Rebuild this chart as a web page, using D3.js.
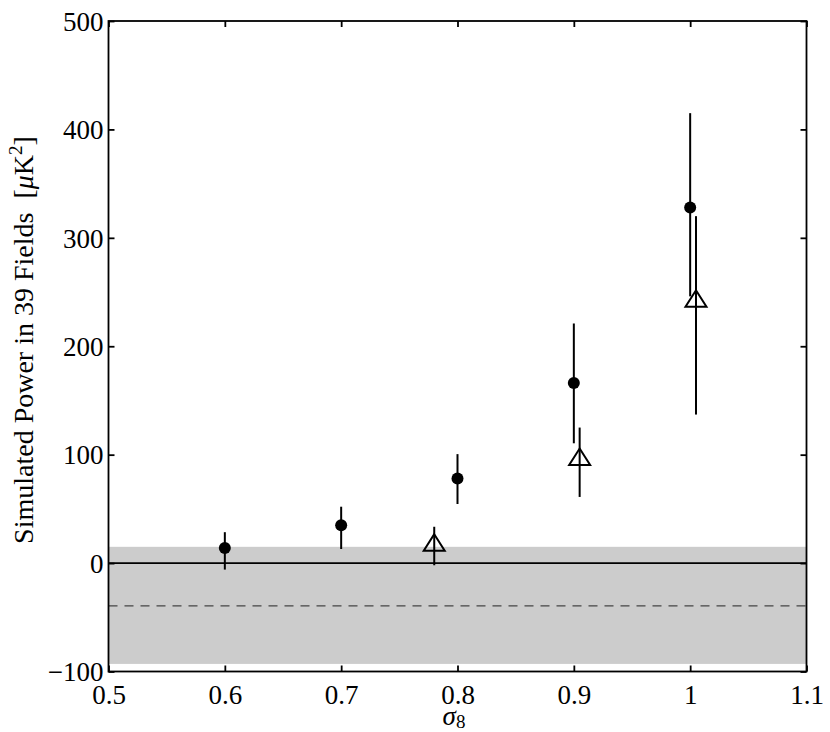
<!DOCTYPE html>
<html>
<head>
<meta charset="utf-8">
<script src="https://cdn.jsdelivr.net/npm/d3@7"></script>
<style>
  body { margin: 0; background: #fff; }
  text { font-family: "Liberation Serif", "Times New Roman", serif; fill: #000; }
</style>
</head>
<body>
<div id="chart"></div>
<script>
// filled circles: sigma8, power, error bar low/high
var sigmaDots = [0.6, 0.7, 0.8, 0.9, 1.0];
var powerDots = [14, 35, 78, 166, 328];
var dotsLo = [-6, 13, 54.5, 110.5, 246];
var dotsHi = [28.5, 52, 100.5, 221, 415];

// open triangles
var sigmaTri = [0.78, 0.905, 1.005];
var powerTri = [19, 98, 244];
var triLo = [-2, 61, 137];
var triHi = [33.5, 125, 320];

// grey band and dashed level
var bandLo = -93, bandHi = 15;
var dashLevel = -39.5;

var xTicks = [0.5, 0.6, 0.7, 0.8, 0.9, 1.0, 1.1];
var xTickLabels = ["0.5", "0.6", "0.7", "0.8", "0.9", "1", "1.1"];
var yTicks = [-100, 0, 100, 200, 300, 400, 500];

var W = 830, H = 732;
var plotL = 108.5, plotR = 806.5, plotT = 21, plotB = 671.5;

var svg = d3.select("#chart").append("svg")
  .attr("width", W).attr("height", H);

var x = d3.scaleLinear().domain([0.5, 1.1]).range([plotL, plotR]);
var y = d3.scaleLinear().domain([-100, 500]).range([plotB, plotT]);

// shaded band
svg.append("rect")
  .attr("x", x(0.5)).attr("width", x(1.1) - x(0.5))
  .attr("y", y(bandHi)).attr("height", y(bandLo) - y(bandHi))
  .attr("fill", "#cccccc");

// dashed line
svg.append("line")
  .attr("x1", x(0.5)).attr("x2", x(1.1))
  .attr("y1", y(dashLevel)).attr("y2", y(dashLevel))
  .attr("stroke", "#444").attr("stroke-width", 1.2)
  .attr("stroke-dasharray", "9,7");

// zero line
svg.append("line")
  .attr("x1", x(0.5)).attr("x2", x(1.1))
  .attr("y1", y(0)).attr("y2", y(0))
  .attr("stroke", "#000").attr("stroke-width", 1.8);

// axes (ticks inside, mirrored like matlab box)
var axB = d3.axisBottom(x).tickValues(xTicks).tickSize(-6).tickFormat(function(d, i) { return xTickLabels[i]; });
var axT = d3.axisTop(x).tickValues(xTicks).tickSize(-6).tickFormat("");
var axL = d3.axisLeft(y).tickValues(yTicks).tickSize(-6).tickFormat(function(d) { return d < 0 ? "\u2212" + Math.abs(d) : d; });
var axR = d3.axisRight(y).tickValues(yTicks).tickSize(-6).tickFormat("");

var gB = svg.append("g").attr("transform", "translate(0," + plotB + ")").call(axB);
var gT = svg.append("g").attr("transform", "translate(0," + plotT + ")").call(axT);
var gL = svg.append("g").attr("transform", "translate(" + plotL + ",0)").call(axL);
var gR = svg.append("g").attr("transform", "translate(" + plotR + ",0)").call(axR);

[gB, gT, gL, gR].forEach(function(g) {
  g.attr("font-family", null).attr("font-size", null);
  g.select(".domain").remove();
  g.selectAll(".tick line").attr("stroke", "#000").attr("stroke-width", 1.8);
  g.selectAll("text").style("font-family", "'Liberation Serif', serif").style("font-size", "27px").attr("fill", "#000");
});
gB.selectAll(".tick text").attr("y", 13).attr("dy", "0.71em");
gL.selectAll(".tick text").attr("x", -5).attr("dy", "0.34em");

// frame
svg.append("rect")
  .attr("x", plotL).attr("y", plotT)
  .attr("width", plotR - plotL).attr("height", plotB - plotT)
  .attr("fill", "none").attr("stroke", "#000").attr("stroke-width", 1.8);

// error bars
svg.selectAll(".ebDot").data(sigmaDots).enter().append("line")
  .attr("x1", function(d) { return x(d); }).attr("x2", function(d) { return x(d); })
  .attr("y1", function(d, i) { return y(dotsLo[i]); })
  .attr("y2", function(d, i) { return y(dotsHi[i]); })
  .attr("stroke", "#000").attr("stroke-width", 2);

svg.selectAll(".ebTri").data(sigmaTri).enter().append("line")
  .attr("x1", function(d) { return x(d); }).attr("x2", function(d) { return x(d); })
  .attr("y1", function(d, i) { return y(triLo[i]); })
  .attr("y2", function(d, i) { return y(triHi[i]); })
  .attr("stroke", "#000").attr("stroke-width", 2);

// filled circles
svg.selectAll(".dot").data(sigmaDots).enter().append("circle")
  .attr("cx", function(d) { return x(d); })
  .attr("cy", function(d, i) { return y(powerDots[i]); })
  .attr("r", 6).attr("fill", "#000");

// open triangles
var tw = 10.5, th = 16.5;
svg.selectAll(".tri").data(sigmaTri).enter().append("path")
  .attr("d", function(d, i) {
    var cx = x(d), cy = y(powerTri[i]);
    return "M" + cx + "," + (cy - th / 2) + "L" + (cx + tw) + "," + (cy + th / 2) +
      "L" + (cx - tw) + "," + (cy + th / 2) + "Z";
  })
  .attr("fill", "none").attr("stroke", "#000").attr("stroke-width", 2)
  .attr("stroke-linejoin", "miter");

// x label
var xl = svg.append("text")
  .attr("x", 454).attr("y", 725)
  .attr("text-anchor", "middle").style("font-size", "27px");
xl.append("tspan").attr("font-style", "italic").text("\u03C3");
xl.append("tspan").style("font-size", "19px").attr("dy", 3).text("8");

// y label
var yl = svg.append("text")
  .attr("transform", "translate(33,340) rotate(-90)")
  .attr("text-anchor", "middle").style("font-size", "28px");
yl.append("tspan").text("Simulated Power in 39 Fields\u2002[");
yl.append("tspan").attr("font-style", "italic").text("\u03BC");
yl.append("tspan").text("K");
yl.append("tspan").style("font-size", "19px").attr("dy", -11).text("2");
yl.append("tspan").attr("dy", 11).text("]");
</script>
</body>
</html>
